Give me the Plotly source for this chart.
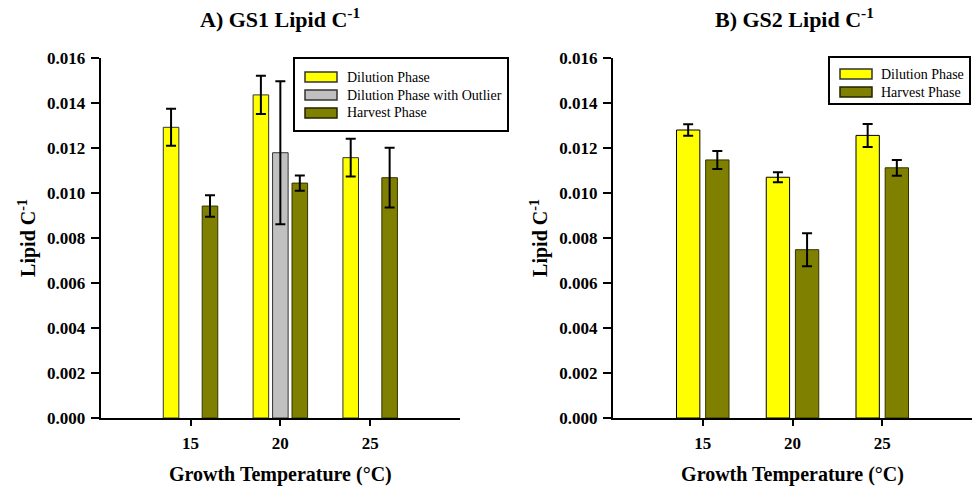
import plotly.graph_objects as go

temps = [15, 20, 25]

a_dilution = [0.01292, 0.01436, 0.01157]
a_dilution_err = [0.00082, 0.00085, 0.00084]
a_outlier = [None, 0.01179, None]
a_outlier_err = [0, 0.00318, 0]
a_harvest = [0.00942, 0.01044, 0.01068]
a_harvest_err = [0.00048, 0.00034, 0.00133]

b_dilution = [0.01280, 0.01070, 0.01256]
b_dilution_err = [0.00026, 0.00022, 0.00051]
b_harvest = [0.01147, 0.00748, 0.01112]
b_harvest_err = [0.00040, 0.00073, 0.00035]

y_ticks = [0.000, 0.002, 0.004, 0.006, 0.008, 0.010, 0.012, 0.014, 0.016]
y_ticklabels = ["0.000", "0.002", "0.004", "0.006", "0.008", "0.010", "0.012", "0.014", "0.016"]

legend_a = ["Dilution Phase", "Dilution Phase with Outlier", "Harvest Phase"]
legend_b = ["Dilution Phase", "Harvest Phase"]

YELLOW = "#FFFF00"
GRAY = "#C0C0C0"
OLIVE = "#808000"
FONT = "Liberation Serif"

W, H = 972, 492


def err(arr):
    return dict(type="data", array=arr, visible=True, color="black", thickness=2, width=5)


fig = go.Figure()
fig.add_trace(go.Bar(x=temps, y=a_dilution, error_y=err(a_dilution_err), name=legend_a[0],
                     marker=dict(color=YELLOW, line=dict(color="#333333", width=1)),
                     xaxis="x", yaxis="y", showlegend=False))
fig.add_trace(go.Bar(x=temps, y=a_outlier, error_y=err(a_outlier_err), name=legend_a[1],
                     marker=dict(color=GRAY, line=dict(color="#333333", width=1)),
                     xaxis="x", yaxis="y", showlegend=False))
fig.add_trace(go.Bar(x=temps, y=a_harvest, error_y=err(a_harvest_err), name=legend_a[2],
                     marker=dict(color=OLIVE, line=dict(color="#333300", width=1)),
                     xaxis="x", yaxis="y", showlegend=False))
fig.add_trace(go.Bar(x=temps, y=b_dilution, error_y=err(b_dilution_err), name=legend_b[0],
                     marker=dict(color=YELLOW, line=dict(color="#000000", width=1)),
                     xaxis="x2", yaxis="y2", showlegend=False))
fig.add_trace(go.Bar(x=temps, y=b_harvest, error_y=err(b_harvest_err), name=legend_b[1],
                     marker=dict(color=OLIVE, line=dict(color="#333300", width=1)),
                     xaxis="x2", yaxis="y2", showlegend=False))

ydom = [(H - 418) / H, (H - 58) / H]
xdomA = [100.7 / W, 460 / W]
xdomB = [613 / W, 1.0]

tickfont = dict(family=FONT, size=17, color="black")
titlefont = dict(family=FONT, size=20, color="black")


def xaxis(dom, anchor):
    return dict(domain=dom, anchor=anchor, range=[10, 30], tickvals=temps,
                ticktext=["<b>%d</b>" % t for t in temps],
                showline=True, linecolor="black", linewidth=2, ticks="outside", ticklen=6, tickwidth=2,
                tickcolor="black", tickfont=tickfont, showgrid=False, zeroline=False, automargin=False,
                ticklabelstandoff=3,
                title=dict(text="<b>Growth Temperature (°C)</b>", font=titlefont, standoff=15))


def yaxis(anchor):
    return dict(domain=ydom, anchor=anchor, range=[0, 0.016], tickvals=y_ticks,
                ticktext=["<b>%s</b>" % t for t in y_ticklabels],
                showline=True, linecolor="black", linewidth=2, ticks="outside", ticklen=8, tickwidth=2,
                tickcolor="black", tickfont=tickfont, showgrid=False, zeroline=False, automargin=False,
                ticklabelstandoff=2,
                title=dict(text="<b>Lipid C<sup>-1</sup></b>", font=titlefont, standoff=6))


shapes = []
annotations = []


def px(x):
    return x / W


def py(y):
    return (H - y) / H


def draw_legend(box, rows_y, sw_x0, sw_x1, text_x, labels, colors, lines):
    x0, y0, x1, y1 = box
    shapes.append(dict(type="rect", xref="paper", yref="paper", x0=px(x0), x1=px(x1), y0=py(y1), y1=py(y0),
                       line=dict(color="black", width=2), fillcolor="white", layer="above"))
    for yy, lab, c, lc in zip(rows_y, labels, colors, lines):
        shapes.append(dict(type="rect", xref="paper", yref="paper", x0=px(sw_x0), x1=px(sw_x1),
                           y0=py(yy + 5), y1=py(yy - 5), line=dict(color=lc, width=1.5), fillcolor=c,
                           layer="above"))
        annotations.append(dict(text=lab, x=px(text_x), y=py(yy), xref="paper", yref="paper", showarrow=False,
                                xanchor="left", yanchor="middle",
                                font=dict(family=FONT, size=14, color="black")))


draw_legend((294, 58, 508, 131), [77, 95, 113], 305, 337, 345, legend_a,
            [YELLOW, GRAY, OLIVE], ["#333333", "#333333", "#222200"])
draw_legend((829, 57, 970, 104), [74, 92], 840, 872, 879, legend_b,
            [YELLOW, OLIVE], ["#333333", "#222200"])

annotations += [
    dict(text="<b>A) GS1 Lipid C<sup>-1</sup></b>", x=px(280), y=py(18), xref="paper", yref="paper",
         showarrow=False, xanchor="center", yanchor="middle",
         font=dict(family=FONT, size=22, color="black")),
    dict(text="<b>B) GS2 Lipid C<sup>-1</sup></b>", x=px(794), y=py(18), xref="paper", yref="paper",
         showarrow=False, xanchor="center", yanchor="middle",
         font=dict(family=FONT, size=22, color="black")),
]

fig.update_layout(
    template="none",
    width=W, height=H,
    margin=dict(l=0, r=0, t=0, b=0),
    paper_bgcolor="white", plot_bgcolor="white",
    barmode="group", bargap=0.35, bargroupgap=0.2,
    showlegend=False,
    xaxis=xaxis(xdomA, "y"), yaxis=yaxis("x"),
    xaxis2=xaxis(xdomB, "y2"), yaxis2=yaxis("x2"),
    shapes=shapes,
    annotations=annotations,
)

fig.write_html("out.html")
